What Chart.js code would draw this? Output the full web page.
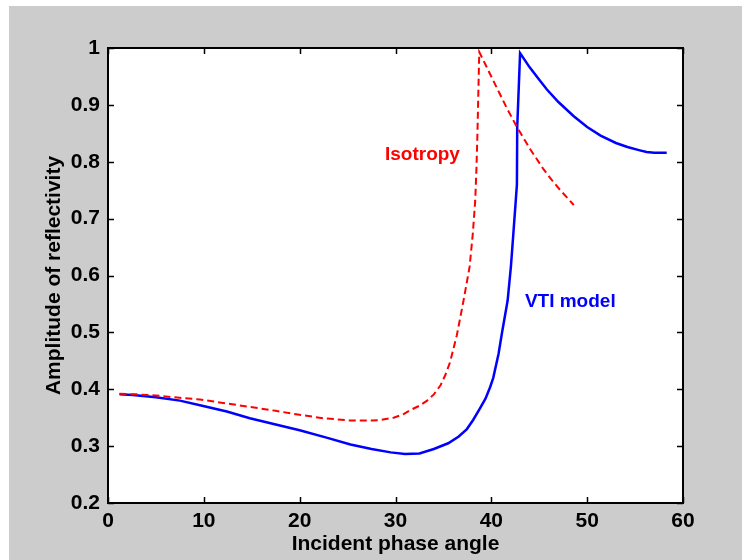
<!DOCTYPE html>
<html>
<head>
<meta charset="utf-8">
<script src="https://cdn.jsdelivr.net/npm/chart.js@4.4.1/dist/chart.umd.min.js"></script>
<style>
  html, body { margin: 0; padding: 0; background: #fff; }
  #wrap { position: relative; width: 742px; height: 560px; }
</style>
</head>
<body>
<div id="wrap"><canvas id="canvas" width="742" height="560"></canvas></div>
<script>
'use strict'
/* global Chart */

// VTI model curve (blue, solid)
const vtiAngle = [1.2, 2.6, 5, 7.5, 9.6, 12.4, 14.8, 17.5, 20, 22.8, 25.3, 27.5, 29.5, 31, 32.5, 34, 35.5, 36.6,
  37.45, 38.1, 38.8, 39.4, 39.88, 40.2, 40.75, 41.1, 41.7, 42.04, 42.3, 42.55, 42.67, 42.7, 43.0,
  44, 45, 45.8, 47, 48.6, 50, 51.4, 53, 54.2, 55.5, 56.2, 57, 58.3]
const vtiAmp = [0.391, 0.390, 0.386, 0.380, 0.372, 0.361, 0.349, 0.338, 0.328, 0.315, 0.303, 0.295, 0.289, 0.286, 0.287, 0.295, 0.305, 0.317,
  0.330, 0.346, 0.366, 0.384, 0.404, 0.420, 0.462, 0.498, 0.556, 0.615, 0.674, 0.732, 0.760, 0.860, 0.991,
  0.966, 0.944, 0.927, 0.905, 0.880, 0.861, 0.846, 0.833, 0.826, 0.820, 0.817, 0.816, 0.816]

// Isotropy curve (red, dashed)
const isoAngle = [1.2, 3, 5, 7.5, 9.6, 12, 14.8, 17.5, 20, 22.5, 25.3, 27.5, 28.5, 29.8, 30.8, 31.5, 32.5, 33.3, 34, 34.7,
  35.2, 35.7, 36.4, 37.1, 37.73, 38.07, 38.32, 38.45, 38.55, 38.74,
  39.5, 40.6, 41.6, 42.67, 44.06, 45.4, 46.3, 47.2, 48.6]
const isoAmp = [0.392, 0.391, 0.389, 0.385, 0.382, 0.376, 0.369, 0.362, 0.355, 0.349, 0.345, 0.345, 0.346, 0.350, 0.356, 0.363, 0.371, 0.380, 0.391, 0.407,
  0.425, 0.448, 0.495, 0.556, 0.615, 0.674, 0.732, 0.790, 0.850, 0.993,
  0.967, 0.929, 0.895, 0.861, 0.822, 0.788, 0.768, 0.750, 0.724]

// text labels inside the plot
const labelText = ['Isotropy', 'VTI model']
const labelAngle = [28.9, 43.5]
const labelAmp = [0.812, 0.553]
const labelColor = ['#ff0000', '#0000ff']

const xTicks = [0, 10, 20, 30, 40, 50, 60]
const yTicks = [0.2, 0.3, 0.4, 0.5, 0.6, 0.7, 0.8, 0.9, 1]

const FONT = 'Arial, "Liberation Sans", Helvetica, sans-serif'
const toPoints = (xs, ys) => xs.map((x, i) => ({ x, y: ys[i] }))

const matlabFrame = {
  id: 'matlabFrame',
  beforeDraw (chart) {
    const { ctx, chartArea: a } = chart
    ctx.save()
    ctx.fillStyle = '#cccccc'
    ctx.fillRect(9, 6, 733, 554)
    ctx.fillStyle = '#ffffff'
    ctx.fillRect(a.left, a.top, a.right - a.left, a.bottom - a.top)
    ctx.restore()
  },
  afterDraw (chart) {
    const { ctx, chartArea: a, scales } = chart
    const tl = 6
    ctx.save()
    ctx.strokeStyle = '#000'
    ctx.lineWidth = 1.5
    ctx.beginPath()
    xTicks.forEach(v => {
      const px = Math.round(scales.x.getPixelForValue(v)) + 0.5
      ctx.moveTo(px, a.bottom); ctx.lineTo(px, a.bottom - tl)
      ctx.moveTo(px, a.top); ctx.lineTo(px, a.top + tl)
    })
    yTicks.forEach(v => {
      const py = Math.round(scales.y.getPixelForValue(v)) + 0.5
      ctx.moveTo(a.left, py); ctx.lineTo(a.left + tl, py)
      ctx.moveTo(a.right, py); ctx.lineTo(a.right - tl, py)
    })
    ctx.stroke()
    ctx.lineWidth = 2
    ctx.strokeRect(a.left, a.top, a.right - a.left, a.bottom - a.top)

    // annotations
    ctx.font = 'bold 19px ' + FONT
    ctx.textAlign = 'left'
    ctx.textBaseline = 'middle'
    labelText.forEach((t, i) => {
      ctx.fillStyle = labelColor[i]
      ctx.fillText(t, scales.x.getPixelForValue(labelAngle[i]), scales.y.getPixelForValue(labelAmp[i]))
    })
    ctx.restore()
  }
}

const ctx = document.getElementById('canvas').getContext('2d')
const myChart = new Chart(ctx, {
  type: 'scatter',
  data: {
    datasets: [
      {
        label: 'Isotropy',
        data: toPoints(isoAngle, isoAmp),
        showLine: true,
        borderColor: '#ff0000',
        borderWidth: 2,
        borderDash: [7, 4],
        pointRadius: 0,
        tension: 0,
        fill: false
      },
      {
        label: 'VTI model',
        data: toPoints(vtiAngle, vtiAmp),
        showLine: true,
        borderColor: '#0000ff',
        borderWidth: 2.5,
        pointRadius: 0,
        tension: 0,
        fill: false
      }
    ]
  },
  options: {
    responsive: false,
    animation: false,
    devicePixelRatio: 1,
    layout: { padding: { top: 48, right: 59, left: 0, bottom: 0 } },
    plugins: {
      legend: { display: false },
      tooltip: { enabled: false }
    },
    scales: {
      x: {
        type: 'linear',
        min: 0,
        max: 60,
        afterFit: scale => { scale.height = 57 },
        afterBuildTicks: scale => { scale.ticks = xTicks.map(v => ({ value: v })) },
        grid: { display: false, drawTicks: false },
        border: { display: false },
        ticks: { color: '#000', padding: 6, font: { family: FONT, size: 21, weight: 'bold' } },
        title: {
          display: true,
          text: 'Incident phase angle',
          color: '#000',
          font: { family: FONT, size: 21, weight: 'bold' },
          padding: { top: 0, bottom: 3 }
        }
      },
      y: {
        type: 'linear',
        min: 0.2,
        max: 1,
        afterFit: scale => { scale.width = 108 },
        afterBuildTicks: scale => { scale.ticks = yTicks.map(v => ({ value: v })) },
        grid: { display: false, drawTicks: false },
        border: { display: false },
        ticks: {
          color: '#000',
          padding: 8,
          font: { family: FONT, size: 21, weight: 'bold' },
          callback: v => String(Number(v.toFixed(1)))
        },
        title: {
          display: true,
          text: 'Amplitude of reflectivity',
          color: '#000',
          font: { family: FONT, size: 21, weight: 'bold' },
          padding: { top: 42, bottom: 0 }
        }
      }
    }
  },
  plugins: [matlabFrame]
})
</script>
</body>
</html>
